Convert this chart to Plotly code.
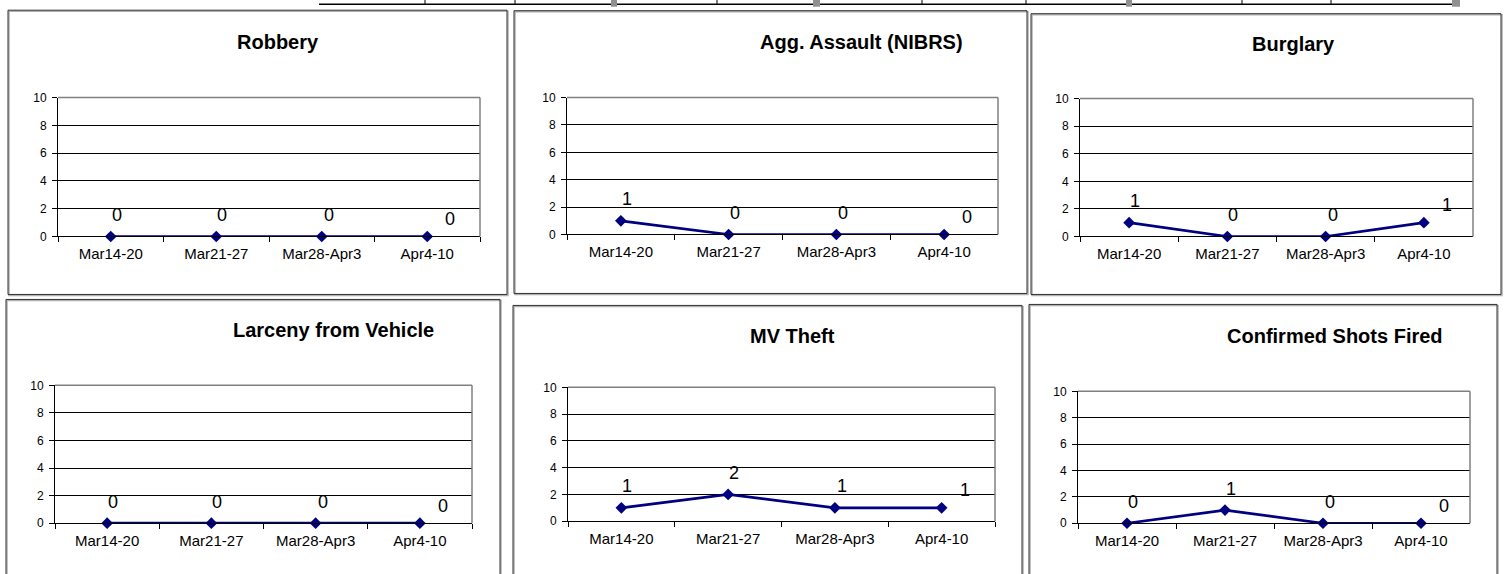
import plotly.graph_objects as go
from plotly.subplots import make_subplots

W, H = 1504, 574

# data
categories = ["Mar14-20", "Mar21-27", "Mar28-Apr3", "Apr4-10"]
titles = ["Robbery", "Agg. Assault (NIBRS)", "Burglary",
          "Larceny from Vehicle", "MV Theft", "Confirmed Shots Fired"]
robbery = [0, 0, 0, 0]
agg_assault = [1, 0, 0, 0]
burglary = [1, 0, 0, 1]
larceny_vehicle = [0, 0, 0, 0]
mv_theft = [1, 2, 1, 1]
shots_fired = [0, 1, 0, 0]
y_ticks = [0, 2, 4, 6, 8, 10]

series = [robbery, agg_assault, burglary, larceny_vehicle, mv_theft, shots_fired]

# page layout, in pixels
# plot area: left, right, top (y=10), bottom (y=0)
plot_px = [(58, 480, 97, 236), (567, 998, 97, 234), (1080, 1473, 98, 236),
           (55, 472, 385, 523), (568, 995, 387, 521), (1078, 1470, 391, 523)]
title_px = [(278, 41), (862, 41), (1293, 43), (333, 330), (793, 336), (1335, 336)]
frame_px = [(8, 9.5, 507, 294), (514, 10, 1027, 293), (1031, 13, 1501, 294),
            (6, 299, 500, 590), (513, 305, 1022, 590), (1029, 304, 1497, 590)]
# data label offsets (px) relative to each point
label_dx = [6, 6, 7, 23]
label_dy = [21, 21, 21, 17]

NAVY = "#000080"
FONT = "Liberation Sans, Arial, sans-serif"

# the captured page comes out slightly squeezed vertically; correct for it
Y_SCALE, Y_OFF = 0.9765, 6.3


def fx(x):
    return x / W


def fy(y):
    return 1 - ((y - Y_OFF) / Y_SCALE) / H


fig = make_subplots(rows=2, cols=3)

shapes = []
annotations = []
for i, vals in enumerate(series):
    r, c = i // 3 + 1, i % 3 + 1
    n = '' if i == 0 else str(i + 1)
    left, right, top, bottom = plot_px[i]

    fig.add_trace(go.Scatter(x=categories, y=vals, mode='lines+markers',
                             line=dict(color=NAVY, width=2.7),
                             marker=dict(symbol='diamond', size=9, color=NAVY),
                             cliponaxis=False, hoverinfo='x+y'),
                  row=r, col=c)

    fig.update_xaxes(row=r, col=c, domain=[fx(left), fx(right)],
                     type='category', range=[-0.5, 3.5],
                     tickson='boundaries', ticks='outside', ticklen=5,
                     tickcolor='black', showline=True, linecolor='black',
                     linewidth=1, showgrid=False, zeroline=False,
                     ticklabelstandoff=4,
                     tickfont=dict(size=15, family=FONT, color='black'))
    fig.update_yaxes(row=r, col=c, domain=[fy(bottom), fy(top)],
                     range=[0, 10], tickvals=y_ticks, ticks='outside',
                     ticklen=5, tickcolor='black', showline=True,
                     linecolor='black', linewidth=1, showgrid=True,
                     gridcolor='black', gridwidth=1, zeroline=False,
                     ticklabelstandoff=3,
                     tickfont=dict(size=12, family=FONT, color='black'))

    # grey top and right edge of plot area
    shapes.append(dict(type='line', xref=f'x{n} domain', yref=f'y{n} domain',
                       x0=0, x1=1, y0=1, y1=1, layer='above',
                       line=dict(color='#808080', width=1.5)))
    shapes.append(dict(type='line', xref=f'x{n} domain', yref=f'y{n} domain',
                       x0=1, x1=1, y0=0, y1=1, layer='above',
                       line=dict(color='#808080', width=1.5)))

    # data labels
    for k, (cat, v) in enumerate(zip(categories, vals)):
        annotations.append(dict(x=cat, y=v, xref=f'x{n}', yref=f'y{n}',
                                text=str(v), showarrow=False,
                                xshift=label_dx[k], yshift=label_dy[k] / Y_SCALE,
                                font=dict(size=18, family=FONT, color='black')))

    # chart title
    tx, ty = title_px[i]
    annotations.append(dict(x=fx(tx), y=fy(ty), xref='paper', yref='paper',
                            text=f'<b>{titles[i]}</b>', showarrow=False,
                            xanchor='center', yanchor='middle',
                            font=dict(size=20, family=FONT, color='black')))

    # chart frame
    x0, y0, x1, y1 = frame_px[i]
    shapes.append(dict(type='rect', xref='paper', yref='paper',
                       x0=fx(x0 + 1), x1=fx(x1 + 1), y0=fy(y0 + 1), y1=fy(y1 + 1),
                       line=dict(color='#b0b0b0', width=1.5)))
    shapes.append(dict(type='rect', xref='paper', yref='paper',
                       x0=fx(x0), x1=fx(x1), y0=fy(y0), y1=fy(y1),
                       line=dict(color='#303030', width=1)))

# fragment of the table above the charts
shapes.append(dict(type='line', xref='paper', yref='paper',
                   x0=fx(319), x1=fx(1458), y0=fy(3.5), y1=fy(3.5),
                   line=dict(color='black', width=1.5)))
for xv in [425, 515, 717, 922, 1026, 1242, 1331]:
    shapes.append(dict(type='line', xref='paper', yref='paper',
                       x0=fx(xv), x1=fx(xv), y0=fy(-4), y1=fy(3.5),
                       line=dict(color='black', width=1)))
for xa, xb in [(611, 617), (813, 820), (1126, 1132), (1452, 1460)]:
    shapes.append(dict(type='rect', xref='paper', yref='paper',
                       x0=fx(xa), x1=fx(xb), y0=fy(-4), y1=fy(6),
                       fillcolor='#909090', line=dict(width=0)))

fig.update_layout(width=W, height=H, margin=dict(l=0, r=0, t=0, b=0),
                  plot_bgcolor='white', paper_bgcolor='white',
                  showlegend=False, shapes=shapes, annotations=annotations,
                  font=dict(family=FONT, color='black'))

# the page body has a default 8px margin; drop it so the figure fills the window
fig.write_html("out.html", config={'displayModeBar': False},
               post_script="document.body.style.margin='0';")
